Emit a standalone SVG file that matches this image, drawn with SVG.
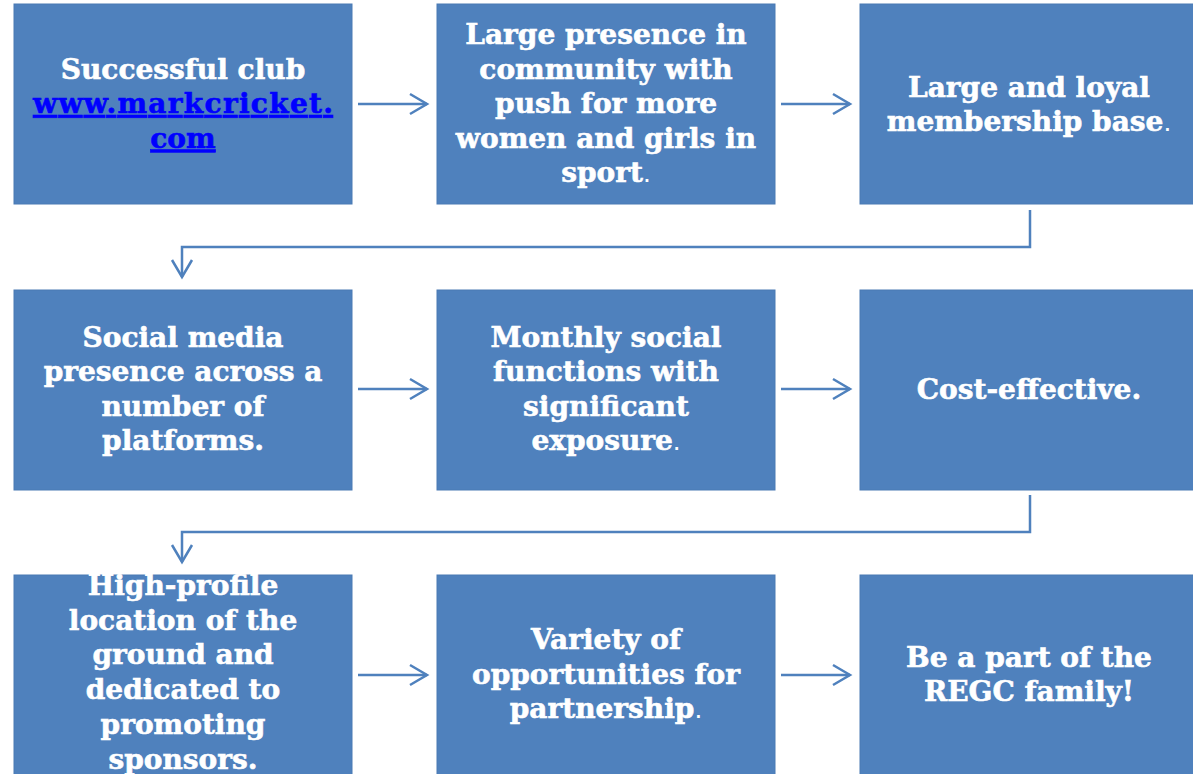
<svg xmlns="http://www.w3.org/2000/svg" width="1193" height="774" viewBox="0 0 1193 774">
<style>
.box{fill:#4F81BD;stroke:#4a7ab4;stroke-width:1}
.t{font-family:"DejaVu Serif","Liberation Serif",serif;font-weight:bold;font-size:28px;fill:#ffffff;stroke:#ffffff;stroke-width:0.6;text-anchor:middle}
.dot{font-family:"Liberation Sans",sans-serif;font-weight:normal;stroke-width:0}
.link{fill:#0000FF;stroke:#0000FF;text-decoration:underline}
.c{fill:none;stroke:#4F81BD;stroke-width:2.5}
</style>
<defs>
<marker id="ah" markerUnits="userSpaceOnUse" markerWidth="24" markerHeight="24" refX="20" refY="12" orient="auto" viewBox="0 0 24 24">
<path d="M3,2 L20,12 L3,22" fill="none" stroke="#4F81BD" stroke-width="2.5"/>
</marker>
</defs>
<g id="connectors">
<line class="c" x1="358" y1="104" x2="427" y2="104" marker-end="url(#ah)"/>
<line class="c" x1="781" y1="104" x2="850" y2="104" marker-end="url(#ah)"/>
<polyline class="c" points="1030,210 1030,247 182,247 182,277" marker-end="url(#ah)"/>
<line class="c" x1="358" y1="389" x2="427" y2="389" marker-end="url(#ah)"/>
<line class="c" x1="781" y1="389" x2="850" y2="389" marker-end="url(#ah)"/>
<polyline class="c" points="1030,495 1030,532 182,532 182,562" marker-end="url(#ah)"/>
<line class="c" x1="358" y1="675" x2="427" y2="675" marker-end="url(#ah)"/>
<line class="c" x1="781" y1="675" x2="850" y2="675" marker-end="url(#ah)"/>
</g>
<g id="n1"><rect class="box" x="14" y="4" width="338" height="200"/>
<text class="t"><tspan x="183" y="78.5">Successful club</tspan><tspan class="link" x="183" y="113" textLength="300" lengthAdjust="spacing">www.markcricket.</tspan><tspan class="link" x="183" y="147.5">com</tspan></text></g>
<g id="n2"><rect class="box" x="437" y="4" width="338" height="200"/>
<text class="t"><tspan x="606" y="44">Large presence in</tspan><tspan x="606" y="78.5">community with</tspan><tspan x="606" y="113">push for more</tspan><tspan x="606" y="147.5">women and girls in</tspan><tspan x="606" y="182">sport<tspan class="dot">.</tspan></tspan></text></g>
<g id="n3"><rect class="box" x="860" y="4" width="338" height="200"/>
<text class="t"><tspan x="1029" y="96.5">Large and loyal</tspan><tspan x="1029" y="130.5">membership base<tspan class="dot">.</tspan></tspan></text></g>
<g id="n4"><rect class="box" x="14" y="290" width="338" height="200"/>
<text class="t"><tspan x="183" y="346.5">Social media</tspan><tspan x="183" y="381">presence across a</tspan><tspan x="183" y="415.5">number of</tspan><tspan x="183" y="450">platforms.</tspan></text></g>
<g id="n5"><rect class="box" x="437" y="290" width="338" height="200"/>
<text class="t"><tspan x="606" y="346.5">Monthly social</tspan><tspan x="606" y="381">functions with</tspan><tspan x="606" y="415.5">significant</tspan><tspan x="606" y="450">exposure<tspan class="dot">.</tspan></tspan></text></g>
<g id="n6"><rect class="box" x="860" y="290" width="338" height="200"/>
<text class="t"><tspan x="1029" y="399">Cost-effective.</tspan></text></g>
<g id="n7"><rect class="box" x="14" y="575" width="338" height="210"/>
<text class="t"><tspan x="183" y="595">High-profile</tspan><tspan x="183" y="629.7">location of the</tspan><tspan x="183" y="664.4">ground and</tspan><tspan x="183" y="699">dedicated to</tspan><tspan x="183" y="733.8">promoting</tspan><tspan x="183" y="768.5">sponsors.</tspan></text></g>
<g id="n8"><rect class="box" x="437" y="575" width="338" height="210"/>
<text class="t"><tspan x="606" y="649">Variety of</tspan><tspan x="606" y="684">opportunities for</tspan><tspan x="606" y="718">partnership<tspan class="dot">.</tspan></tspan></text></g>
<g id="n9"><rect class="box" x="860" y="575" width="338" height="210"/>
<text class="t"><tspan x="1029" y="667">Be a part of the</tspan><tspan x="1029" y="701">REGC family!</tspan></text></g>
</svg>
